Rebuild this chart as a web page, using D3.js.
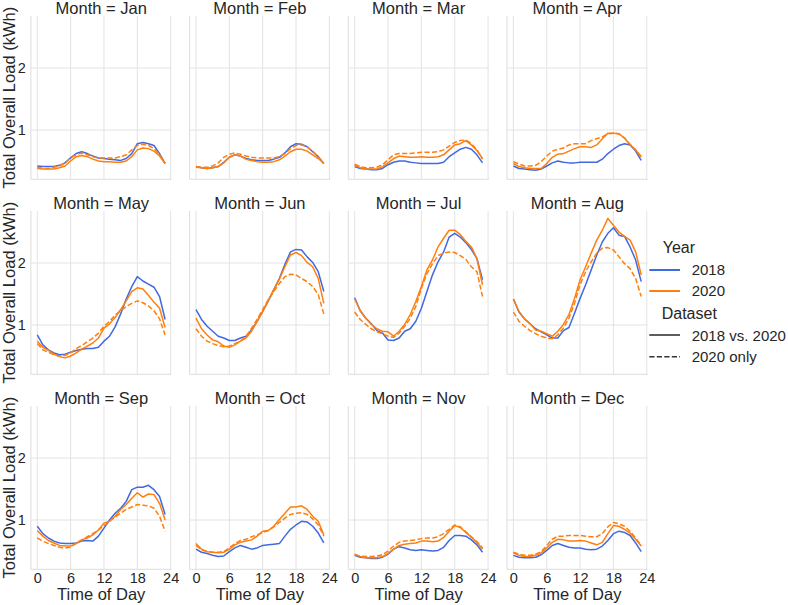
<!DOCTYPE html>
<html><head><meta charset="utf-8">
<script src="https://cdn.jsdelivr.net/npm/d3@7"></script>
<style>body{margin:0;background:#fff}svg{font-family:"Liberation Sans",Arial,sans-serif}</style>
</head><body><svg id="c" width="788" height="605"></svg>
<script>
const months = ["Jan","Feb","Mar","Apr","May","Jun","Jul","Aug","Sep","Oct","Nov","Dec"];
const hours = d3.range(24);
const xTicks = [0, 6, 12, 18, 24];
const yTicks = [1, 2];

// Series: 2018 (2018 vs. 2020 dataset)
const load2018 = [
 [0.42,0.41,0.41,0.41,0.43,0.47,0.55,0.62,0.65,0.62,0.58,0.55,0.54,0.53,0.52,0.51,0.54,0.62,0.78,0.80,0.78,0.75,0.62,0.46],
 [0.41,0.39,0.38,0.39,0.41,0.48,0.56,0.60,0.58,0.54,0.52,0.51,0.51,0.51,0.53,0.56,0.63,0.73,0.78,0.77,0.73,0.65,0.57,0.46],
 [0.41,0.38,0.37,0.36,0.36,0.38,0.44,0.48,0.50,0.50,0.48,0.47,0.46,0.46,0.46,0.46,0.48,0.57,0.63,0.69,0.72,0.69,0.60,0.47],
 [0.42,0.38,0.37,0.36,0.35,0.37,0.42,0.47,0.50,0.48,0.47,0.47,0.48,0.48,0.48,0.48,0.53,0.62,0.69,0.75,0.78,0.76,0.66,0.51],
 [0.84,0.68,0.60,0.55,0.52,0.53,0.56,0.59,0.61,0.62,0.62,0.64,0.74,0.82,0.97,1.18,1.42,1.62,1.78,1.71,1.66,1.61,1.46,1.09],
 [1.25,1.09,0.98,0.90,0.82,0.79,0.75,0.75,0.79,0.82,0.92,1.06,1.22,1.39,1.57,1.75,1.98,2.18,2.22,2.21,2.10,2.01,1.86,1.54],
 [1.44,1.23,1.11,1.02,0.91,0.87,0.76,0.75,0.79,0.90,0.94,1.06,1.27,1.54,1.81,2.02,2.18,2.42,2.48,2.42,2.33,2.22,2.07,1.73],
 [1.42,1.21,1.10,1.02,0.94,0.89,0.84,0.79,0.79,0.91,0.96,1.19,1.43,1.65,1.89,2.13,2.34,2.48,2.57,2.45,2.43,2.26,2.05,1.70],
 [0.90,0.78,0.71,0.66,0.63,0.62,0.62,0.63,0.66,0.67,0.66,0.74,0.87,1.00,1.11,1.19,1.30,1.49,1.53,1.53,1.56,1.49,1.38,1.09],
 [0.53,0.48,0.46,0.43,0.41,0.42,0.49,0.55,0.59,0.56,0.53,0.55,0.59,0.60,0.61,0.62,0.74,0.85,0.92,0.98,0.97,0.90,0.79,0.63],
 [0.43,0.40,0.39,0.38,0.38,0.40,0.45,0.53,0.57,0.55,0.52,0.51,0.52,0.51,0.50,0.51,0.56,0.67,0.75,0.75,0.74,0.68,0.60,0.48],
 [0.43,0.40,0.39,0.39,0.40,0.44,0.51,0.59,0.62,0.59,0.56,0.55,0.55,0.53,0.52,0.53,0.58,0.67,0.78,0.82,0.80,0.75,0.63,0.49]
];
// Series: 2020 (2018 vs. 2020 dataset)
const load2020 = [
 [0.38,0.37,0.37,0.37,0.39,0.42,0.50,0.57,0.59,0.57,0.53,0.50,0.49,0.49,0.48,0.48,0.50,0.57,0.68,0.71,0.70,0.66,0.58,0.46],
 [0.40,0.39,0.38,0.39,0.41,0.47,0.56,0.60,0.58,0.53,0.51,0.49,0.48,0.48,0.49,0.52,0.58,0.65,0.69,0.69,0.66,0.60,0.54,0.46],
 [0.44,0.39,0.37,0.37,0.37,0.41,0.47,0.54,0.58,0.57,0.56,0.56,0.57,0.56,0.56,0.57,0.60,0.68,0.76,0.78,0.83,0.76,0.67,0.54],
 [0.46,0.41,0.39,0.38,0.38,0.38,0.46,0.56,0.61,0.62,0.66,0.70,0.73,0.73,0.72,0.76,0.86,0.95,0.95,0.94,0.87,0.76,0.68,0.57],
 [0.74,0.64,0.59,0.53,0.49,0.47,0.50,0.55,0.61,0.66,0.71,0.79,0.95,1.02,1.12,1.25,1.39,1.54,1.60,1.58,1.48,1.37,1.27,0.96],
 [1.11,0.94,0.84,0.76,0.73,0.66,0.64,0.68,0.74,0.79,0.90,1.06,1.22,1.39,1.57,1.74,1.94,2.13,2.17,2.12,2.01,1.94,1.75,1.35],
 [1.42,1.23,1.11,1.01,0.94,0.90,0.89,0.82,0.90,1.01,1.17,1.38,1.62,1.89,2.05,2.26,2.40,2.53,2.53,2.46,2.35,2.26,2.07,1.65],
 [1.42,1.22,1.10,1.02,0.92,0.90,0.86,0.82,0.90,1.01,1.17,1.43,1.73,1.94,2.16,2.37,2.53,2.72,2.61,2.50,2.43,2.37,2.18,1.81],
 [0.83,0.74,0.67,0.63,0.59,0.58,0.58,0.62,0.68,0.71,0.76,0.84,0.95,0.98,1.06,1.17,1.25,1.35,1.44,1.37,1.42,1.41,1.27,1.00],
 [0.62,0.53,0.49,0.48,0.47,0.48,0.53,0.60,0.64,0.66,0.68,0.74,0.82,0.83,0.90,1.01,1.11,1.21,1.21,1.23,1.17,1.06,0.98,0.76],
 [0.45,0.41,0.39,0.39,0.39,0.41,0.46,0.53,0.59,0.61,0.62,0.63,0.66,0.66,0.65,0.66,0.72,0.82,0.91,0.88,0.80,0.72,0.64,0.53],
 [0.47,0.43,0.41,0.41,0.43,0.47,0.55,0.64,0.69,0.68,0.66,0.66,0.67,0.66,0.63,0.60,0.64,0.78,0.91,0.90,0.85,0.79,0.69,0.58]
];
// Series: 2020 (2020 only dataset)
const load2020only = [
 [0.40,0.38,0.38,0.40,0.42,0.47,0.55,0.60,0.63,0.60,0.57,0.55,0.55,0.55,0.55,0.57,0.60,0.68,0.75,0.77,0.75,0.70,0.60,0.46],
 [0.41,0.40,0.40,0.42,0.47,0.56,0.61,0.63,0.61,0.58,0.56,0.55,0.55,0.55,0.55,0.57,0.62,0.70,0.75,0.76,0.73,0.66,0.57,0.46],
 [0.45,0.41,0.39,0.39,0.40,0.44,0.52,0.60,0.62,0.62,0.62,0.63,0.64,0.64,0.64,0.65,0.68,0.74,0.80,0.83,0.84,0.78,0.68,0.53],
 [0.49,0.45,0.42,0.42,0.43,0.49,0.58,0.66,0.69,0.71,0.76,0.78,0.78,0.78,0.83,0.86,0.89,0.94,0.95,0.94,0.87,0.77,0.68,0.57],
 [0.70,0.60,0.56,0.52,0.50,0.51,0.55,0.62,0.67,0.73,0.79,0.87,0.98,1.06,1.16,1.23,1.30,1.35,1.39,1.36,1.31,1.23,1.10,0.84],
 [0.94,0.82,0.74,0.70,0.67,0.65,0.66,0.70,0.74,0.82,0.95,1.09,1.25,1.41,1.54,1.67,1.78,1.82,1.81,1.75,1.70,1.62,1.49,1.18],
 [1.21,1.09,1.01,0.94,0.89,0.86,0.82,0.80,0.87,0.98,1.11,1.30,1.59,1.83,1.99,2.12,2.16,2.18,2.17,2.12,2.06,1.94,1.86,1.46],
 [1.21,1.06,0.98,0.91,0.86,0.82,0.79,0.78,0.84,0.95,1.11,1.35,1.65,1.86,2.02,2.16,2.24,2.25,2.21,2.10,1.99,1.91,1.75,1.46],
 [0.71,0.66,0.62,0.59,0.56,0.55,0.56,0.63,0.68,0.73,0.78,0.84,0.91,0.98,1.05,1.11,1.17,1.21,1.25,1.24,1.23,1.19,1.06,0.82],
 [0.59,0.52,0.49,0.48,0.48,0.49,0.55,0.62,0.67,0.69,0.73,0.76,0.80,0.83,0.89,0.96,1.03,1.09,1.11,1.12,1.09,1.02,0.92,0.74],
 [0.44,0.42,0.41,0.41,0.42,0.44,0.50,0.58,0.64,0.66,0.67,0.68,0.70,0.71,0.71,0.73,0.78,0.85,0.92,0.89,0.81,0.73,0.65,0.55],
 [0.48,0.45,0.43,0.43,0.45,0.49,0.59,0.69,0.74,0.74,0.75,0.75,0.75,0.74,0.73,0.73,0.78,0.89,0.96,0.94,0.90,0.82,0.71,0.59]
];

const yearNames = ["2018", "2020"];
const datasetNames = ["2018 vs. 2020", "2020 only"];
const blue = "#4169e1", orange = "#ff7f0e";
const series = [
  {values: load2018, color: blue, dash: null},
  {values: load2020, color: orange, dash: null},
  {values: load2020only, color: orange, dash: "5.2,2.3"}
];

const svg = d3.select("#c");
const textColor = "#262626";
const gridColor = "#e3e3e3";
const colX = [30.9, 189.6, 348.3, 507.0];
const rowY = [16, 211, 406];
const pw = 140.6, ph = 163.3;
const labelSize = 16.5, tickSize = 14.5;

const x = d3.scaleLinear().domain([-1.15, 24.15]).range([0, pw]);
const y = d3.scaleLinear().domain([0.205, 2.84]).range([ph, 0]);

months.forEach((m, i) => {
  const r = Math.floor(i / 4), c = i % 4;
  const g = svg.append("g").attr("transform", `translate(${colX[c]},${rowY[r]})`);
  g.selectAll(".vg").data(xTicks).join("line")
    .attr("x1", d => x(d)).attr("x2", d => x(d)).attr("y1", 0).attr("y2", ph)
    .attr("stroke", gridColor).attr("stroke-width", 1);
  g.selectAll(".hg").data(yTicks).join("line")
    .attr("x1", 0).attr("x2", pw).attr("y1", d => y(d)).attr("y2", d => y(d))
    .attr("stroke", gridColor).attr("stroke-width", 1);
  g.append("line").attr("x1", 0).attr("x2", 0).attr("y1", 0).attr("y2", ph).attr("stroke", "#dcdcdc");
  g.append("line").attr("x1", 0).attr("x2", pw).attr("y1", ph).attr("y2", ph).attr("stroke", "#dcdcdc");
  const line = d3.line().x((d, k) => x(hours[k])).y(d => y(d));
  series.forEach(s => {
    g.append("path").attr("d", line(s.values[i]))
      .attr("fill", "none").attr("stroke", s.color).attr("stroke-width", 1.5)
      .attr("stroke-linejoin", "round")
      .attr("stroke-dasharray", s.dash);
  });
  g.append("text").attr("x", pw / 2).attr("y", -2).attr("text-anchor", "middle")
    .attr("font-size", labelSize).attr("fill", textColor).text(`Month = ${m}`);
  if (c === 0) {
    const ya = g.append("g").call(d3.axisLeft(y).tickValues(yTicks).tickSize(0).tickPadding(5).tickFormat(d3.format("d")));
    ya.select(".domain").remove();
    ya.selectAll("text").attr("font-size", tickSize).attr("fill", textColor).attr("font-family", "Liberation Sans, Arial, sans-serif");
    g.append("text").attr("transform", `translate(${15 - colX[0]},${ph / 2}) rotate(-90)`)
      .attr("text-anchor", "middle").attr("font-size", labelSize).attr("fill", textColor)
      .text("Total Overall Load (kWh)");
  }
  if (r === 2) {
    const xa = g.append("g").attr("transform", `translate(0,${ph})`)
      .call(d3.axisBottom(x).tickValues(xTicks).tickSize(0).tickPadding(3).tickFormat(d3.format("d")));
    xa.select(".domain").remove();
    xa.selectAll("text").attr("font-size", tickSize).attr("fill", textColor).attr("font-family", "Liberation Sans, Arial, sans-serif");
    g.append("text").attr("x", pw / 2).attr("y", 599.5 - rowY[2]).attr("text-anchor", "middle")
      .attr("font-size", labelSize).attr("fill", textColor).text("Time of Day");
  }
});

const lg = svg.append("g");
lg.append("text").attr("x", 662.7).attr("y", 253).attr("font-size", 16).attr("fill", textColor).text("Year");
const legendYears = [{name: yearNames[0], color: blue, ly: 270, ty: 275}, {name: yearNames[1], color: orange, ly: 291, ty: 296}];
legendYears.forEach(e => {
  lg.append("line").attr("x1", 649.3).attr("x2", 680).attr("y1", e.ly).attr("y2", e.ly).attr("stroke", e.color).attr("stroke-width", 2);
  lg.append("text").attr("x", 691.7).attr("y", e.ty).attr("font-size", 15).attr("fill", textColor).text(e.name);
});
lg.append("text").attr("x", 661.7).attr("y", 319).attr("font-size", 16).attr("fill", textColor).text("Dataset");
const legendSets = [{name: datasetNames[0], dash: null, ly: 335, ty: 340.7}, {name: datasetNames[1], dash: "5.2,2.3", ly: 356.7, ty: 361.5}];
legendSets.forEach(e => {
  lg.append("line").attr("x1", 649.3).attr("x2", 680).attr("y1", e.ly).attr("y2", e.ly).attr("stroke", "#333333").attr("stroke-width", 1.6).attr("stroke-dasharray", e.dash);
  lg.append("text").attr("x", 691.7).attr("y", e.ty).attr("font-size", 15).attr("fill", textColor).text(e.name);
});
</script></body></html>
